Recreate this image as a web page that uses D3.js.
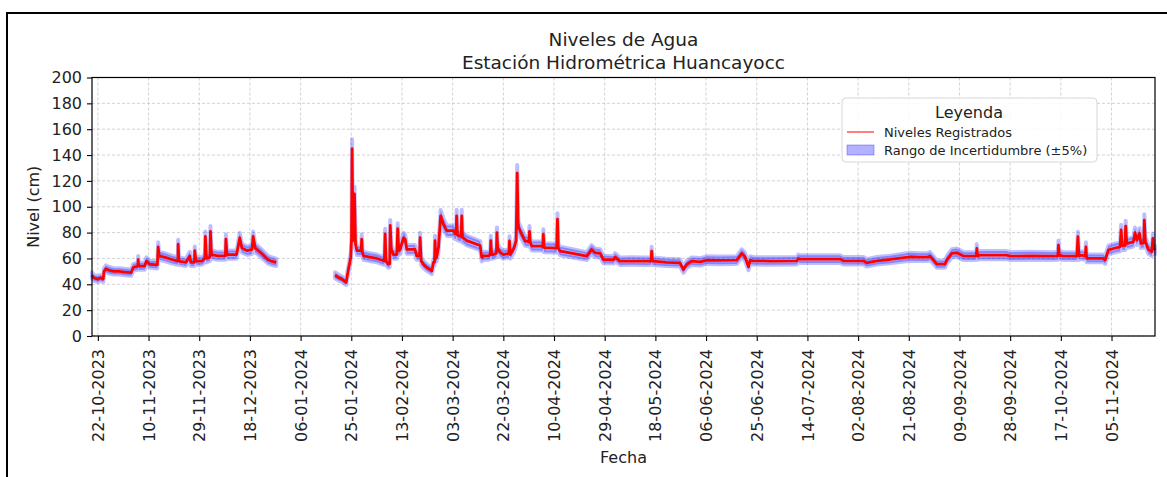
<!DOCTYPE html>
<meta charset="utf-8">
<head>
<style>
body { margin: 0; background: #fff; }
svg text { font-family: "DejaVu Sans", sans-serif; fill: #222; }
</style>
</head>
<script src="https://cdn.jsdelivr.net/npm/d3@7"></script>
<div id="grafico"></div>
<script>

// dias contados desde el 22-10-2023, y nivel registrado (cm) en cada uno; null = sin datos
var dias = [
  -2.2, -1.5, 0, 1, 2, 2.3, 3, 4, 6, 8, 10, 12.5, 13.2, 15, 15.1, 15.3, 17.5, 18.2, 19.5, 22.3,
  22.6, 23, 25, 28, 30, 30.1, 30.4, 33, 34.5, 34.8, 36.2, 36.3, 36.8, 39, 40.1, 40.3, 40.7, 42, 42.2, 42.6,
  45, 47.8, 48, 48.4, 52, 53.2, 54, 56, 57.8, 58.2, 59, 61.3, 63.8, 65, 66.9, 67.5,
  88.9, 90, 91.5, 93.1, 93.6, 94.3, 94.8, 95.1, 95.3, 95.6, 95.8, 96.2, 96.6, 97.1, 98.7, 98.9, 99.2, 99.6, 102, 104.6,
  107.4, 107.7, 108, 108.3, 108.9, 109.4, 109.6, 110, 110.8, 112.1, 112.4, 112.8, 113.3, 114.6, 115.2, 115.8, 118.9, 119.5, 120.6, 120.8,
  121.2, 122, 123.3, 125.2, 125.8, 126.2, 126.4, 126.7, 127, 127.7, 128.5, 129.5, 130.8, 133.3, 133.9, 134.3, 134.5, 134.8, 135.2, 136.2,
  136.4, 136.7, 137, 138.3, 143.3, 143.9, 144.6, 146.4, 147.1, 147.3, 147.6, 148.1, 149.4, 149.6, 149.9, 150.2, 150.8, 152, 154.1, 154.3,
  154.6, 156, 156.8, 157.2, 157.5, 157.7, 158.9, 160.2, 161.6, 161.8, 162.1, 162.7, 166.2, 166.8, 167, 167.3, 172, 172.3, 172.6, 172.9,
  173.3, 178, 183.3, 185.1, 186.4, 188.3, 189.5, 193.3, 193.9, 195.7, 200, 205.7, 207.4, 207.6, 207.9, 208.3, 213, 218.2, 219.5, 220.7,
  222.6, 225.8, 228.3, 233, 239.5, 241.4, 242.6, 243.9, 244.5, 245.8, 252, 262, 262.6, 263.2, 270, 278.2, 279.5, 287, 288.2, 292,
  297, 304.5, 308.2, 311, 312, 313.8, 314.5, 317.6, 318.2, 320.1, 322, 324.5, 328.2, 329.3, 329.5, 329.8, 330.7, 340.7, 342, 350,
  358.2, 359.9, 360.1, 360.4, 362, 367, 367.4, 367.8, 368, 370.2, 370.4, 370.7, 376.9, 377.6, 378.8, 380.7, 383.2, 383.6, 384, 384.2,
  385.1, 385.3, 385.7, 385.9, 388.2, 388.8, 389.5, 390.5, 391, 392.1, 392.3, 392.7, 393, 393.8, 395.1, 395.5, 395.8, 396.3
];
var niveles = [
  47, 45, 44, 45, 44, 50, 52, 51, 50, 50, 49.5, 49, 53, 54, 59, 54, 54, 58, 55.5, 55,
  69, 62, 61, 59, 58, 71, 58, 57, 62, 57, 57, 66, 58, 58, 60, 77, 60, 61, 81, 63,
  62, 62, 75, 63, 63, 76, 68, 66, 67, 77, 68, 64, 59, 58, 57, null,
  47, 45.5, 44, 41.5, 48, 55.6, 61, 75, 145, 80, 74, 110, 71, 66, 66, 75, 64, 62, 61, 60,
  58, 79, 58, 57, 55.6, 56, 85.5, 67, 63, 63, 83, 66, 67, 76, 75, 67, 67, 62, 62, 76,
  58, 55.6, 53, 50.4, 57, 57, 73.8, 60, 60.8, 68.6, 93, 86.8, 81.5, 81.5, 79, 79, 93, 78, 77.7, 77,
  93, 76, 76, 73.8, 70, 60.8, 62, 62, 63, 73.8, 63, 63, 64, 80, 66, 67, 64.7, 63, 64, 73.5,
  63, 68, 73.8, 126, 90, 84, 78.7, 73.5, 73, 81, 72, 69.6, 69.6, 69, 78.7, 68.3, 68, 90.4, 68, 67,
  65.7, 64, 61.8, 67, 64.4, 64, 59.2, 59, 61, 57.9, 58, 57.9, 58, 65.7, 58, 57.9, 57, 56.6, 51.4, 55.3,
  57.9, 57.4, 58.7, 58.5, 58.7, 63.9, 61.3, 53.5, 58.7, 58.2, 58, 58.2, 60, 59.5, 59.5, 59.5, 58.2, 58.2, 56.6, 58.2,
  59.2, 61.3, 61, 61, 61.8, 57.4, 55.6, 55.6, 58.7, 63.9, 64.4, 61.8, 61.8, 62, 67.7, 62, 62.6, 62.6, 61.8, 62,
  61.8, 62, 70.3, 62.6, 61.8, 61.8, 76.8, 62, 62.6, 62, 69, 60, 60, 58.7, 66.5, 67.7, 69, 82, 70, 70.3,
  70, 85, 72, 71.6, 72.9, 79.9, 74.2, 79.4, 71.6, 72, 89.7, 72, 71.6, 67, 65.2, 75.5, 68, 66.5
];

var etiquetasFecha = ["22-10-2023", "10-11-2023", "29-11-2023", "18-12-2023", "06-01-2024", "25-01-2024",
  "13-02-2024", "03-03-2024", "22-03-2024", "10-04-2024", "29-04-2024", "18-05-2024", "06-06-2024",
  "25-06-2024", "14-07-2024", "02-08-2024", "21-08-2024", "09-09-2024", "28-09-2024", "17-10-2024", "05-11-2024"];
var marcasNivel = [0, 20, 40, 60, 80, 100, 120, 140, 160, 180, 200];

var titulo = ["Niveles de Agua", "Estación Hidrométrica Huancayocc"];
var leyenda = ["Niveles Registrados", "Rango de Incertidumbre (±5%)"];

var W = 1167, H = 477;
var pIzq = 92, pDer = 1155, pSup = 77.5, pInf = 336;

var parseFecha = d3.utcParse("%d-%m-%Y");
var fmtFecha = d3.utcFormat("%d-%m-%Y");
var dia0 = Date.UTC(2023, 9, 22);

var data = dias.map(function(d, i) {
  return { fecha: new Date(dia0 + d * 86400000), nivel: niveles[i] };
});

var svg = d3.select("#grafico").append("svg")
  .attr("width", W).attr("height", H);

// marco de la figura
svg.append("rect")
  .attr("x", 7).attr("y", 13).attr("width", W + 20).attr("height", H + 20)
  .attr("fill", "none").attr("stroke", "#000").attr("stroke-width", 2);

var x = d3.scaleUtc()
  .domain(d3.extent(data, function(d) { return d.fecha; }))
  .range([pIzq, pDer]);
var y = d3.scaleLinear().domain([0, 200]).range([pInf, pSup]);

var ticksX = etiquetasFecha.map(parseFecha);

// rejilla
var grid = svg.append("g").attr("stroke", "#b0b0b0").attr("stroke-opacity", 0.7)
  .attr("stroke-width", 0.8).attr("stroke-dasharray", "3,2");
grid.selectAll(".gx").data(ticksX).enter().append("line")
  .attr("x1", function(d) { return x(d); }).attr("x2", function(d) { return x(d); })
  .attr("y1", pSup).attr("y2", pInf);
grid.selectAll(".gy").data(marcasNivel).enter().append("line")
  .attr("x1", pIzq).attr("x2", pDer)
  .attr("y1", function(d) { return y(d); }).attr("y2", function(d) { return y(d); });

// banda de incertidumbre
var area = d3.area()
  .defined(function(d) { return d.nivel != null; })
  .x(function(d) { return x(d.fecha); })
  .y0(function(d) { return y(d.nivel * 0.95); })
  .y1(function(d) { return y(d.nivel * 1.05); });
svg.append("path").datum(data)
  .attr("d", area)
  .attr("fill", "blue").attr("fill-opacity", 0.3)
  .attr("stroke", "blue").attr("stroke-opacity", 0.25).attr("stroke-width", 4)
  .attr("stroke-linejoin", "round");

var linea = d3.line()
  .defined(function(d) { return d.nivel != null; })
  .x(function(d) { return x(d.fecha); })
  .y(function(d) { return y(d.nivel); });
svg.append("path").datum(data)
  .attr("d", linea)
  .attr("fill", "none").attr("stroke", "red").attr("stroke-width", 2.8)
  .attr("stroke-linejoin", "round");

// ejes
var ejeX = svg.append("g").attr("transform", "translate(0," + pInf + ")")
  .call(d3.axisBottom(x).tickValues(ticksX).tickFormat(fmtFecha).tickSize(5).tickPadding(4));
ejeX.select(".domain").remove();
ejeX.selectAll("text")
  .attr("transform", "rotate(-90)")
  .attr("x", -13).attr("y", 0).attr("dy", "0.35em")
  .style("text-anchor", "end");

var ejeY = svg.append("g").attr("transform", "translate(" + pIzq + ",0)")
  .call(d3.axisLeft(y).tickValues(marcasNivel).tickSize(5).tickPadding(5));
ejeY.select(".domain").remove();

svg.selectAll(".tick line").attr("stroke", "#000").attr("stroke-width", 1.1);
svg.selectAll(".tick text").style("font-size", "16px").style("font-family", "DejaVu Sans").attr("fill", "#222");

svg.append("rect")
  .attr("x", pIzq).attr("y", pSup).attr("width", pDer - pIzq).attr("height", pInf - pSup)
  .attr("fill", "none").attr("stroke", "#000").attr("stroke-width", 1.2);

// titulos
svg.selectAll(".titulo").data(titulo).enter().append("text")
  .attr("x", (pIzq + pDer) / 2)
  .attr("y", function(d, i) { return 46 + i * 22.5; })
  .attr("text-anchor", "middle")
  .style("font-size", "18.5px")
  .text(function(d) { return d; });

svg.append("text")
  .attr("x", (pIzq + pDer) / 2).attr("y", 463)
  .attr("text-anchor", "middle").style("font-size", "16px")
  .text("Fecha");

svg.append("text")
  .attr("transform", "translate(39," + ((pSup + pInf) / 2) + ") rotate(-90)")
  .attr("text-anchor", "middle").style("font-size", "16px")
  .text("Nivel (cm)");

// leyenda
var ley = svg.append("g").attr("transform", "translate(842,98)");
ley.append("rect")
  .attr("width", 255).attr("height", 64).attr("rx", 4)
  .attr("fill", "#fff").attr("fill-opacity", 0.85)
  .attr("stroke", "#d6d6d6");
ley.append("text")
  .attr("x", 127).attr("y", 20).attr("text-anchor", "middle")
  .style("font-size", "16px").text("Leyenda");
ley.append("line")
  .attr("x1", 5).attr("x2", 32).attr("y1", 34).attr("y2", 34)
  .attr("stroke", "red").attr("stroke-width", 1);
ley.append("rect")
  .attr("x", 5).attr("y", 47).attr("width", 27).attr("height", 10)
  .attr("fill", "blue").attr("fill-opacity", 0.3)
  .attr("stroke", "blue").attr("stroke-opacity", 0.3);
ley.selectAll(".item").data(leyenda).enter().append("text")
  .attr("x", 42)
  .attr("y", function(d, i) { return 38.5 + i * 18.5; })
  .style("font-size", "13px")
  .text(function(d) { return d; });

</script>
